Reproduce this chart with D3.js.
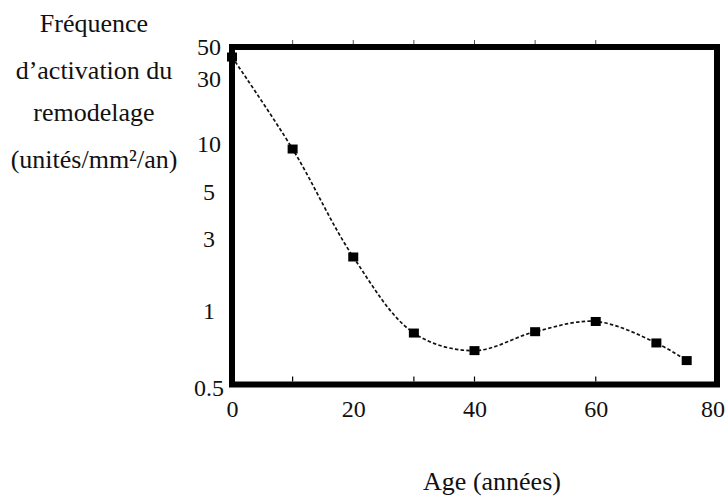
<!DOCTYPE html>
<html>
<head>
<meta charset="utf-8">
<script src="https://cdn.jsdelivr.net/npm/d3@7"></script>
<style>
  html, body { margin: 0; padding: 0; background: #fff; }
  svg { display: block; }
  text { font-family: "Liberation Serif", "Times New Roman", serif; fill: #111; }
</style>
</head>
<body>
<svg id="chart" width="727" height="499"></svg>
<script>
// ---- data ----
const ages = [0, 10, 20, 30, 40, 50, 60, 70, 75];
const frequency = [42.6, 9.3, 2.28, 0.82, 0.70, 0.83, 0.91, 0.75, 0.64];
const yTickValues = [0.5, 1, 3, 5, 10, 30, 50];
const yTickLabels = ["0.5", "1", "3", "5", "10", "30", "50"];
const xTickValues = [0, 20, 40, 60, 80];
const xTickLabels = ["0", "20", "40", "60", "80"];
const innerTicksBottom = [10, 30, 40, 60];
const innerTicksTop = [10, 20, 30, 40, 50, 60];
const yTitleLines = ["Fréquence", "d’activation du", "remodelage", "(unités/mm²/an)"];
const xTitle = "Age (années)";

// ---- layout ----
const W = 727, H = 499;
const frame = { left: 232, top: 47, right: 717, bottom: 384.5 };
// the printed log axis is not evenly spaced: a piecewise log scale reproduces it
const yLabelPos = [388, 311, 239, 192, 144, 79, 47];

const svg = d3.select("#chart");

const x = d3.scaleLinear().domain([0, 80]).range([frame.left, frame.right]);
const yLog = d3.scaleLinear()
  .domain(yTickValues.map(v => Math.log10(v)))
  .range(yLabelPos);
const y = v => yLog(Math.log10(v));

// ---- frame ----
svg.append("rect")
  .attr("x", frame.left).attr("y", frame.top)
  .attr("width", frame.right - frame.left)
  .attr("height", frame.bottom - frame.top)
  .attr("fill", "none").attr("stroke", "#000").attr("stroke-width", 6);

// small inner ticks
svg.append("g").selectAll("line").data(innerTicksBottom).join("line")
  .attr("x1", d => x(d)).attr("x2", d => x(d))
  .attr("y1", frame.bottom - 3).attr("y2", frame.bottom - 8)
  .attr("stroke", "#000").attr("stroke-width", 1.2);
svg.append("g").selectAll("line").data(innerTicksTop).join("line")
  .attr("x1", d => x(d)).attr("x2", d => x(d))
  .attr("y1", frame.top - 3).attr("y2", frame.top - 7)
  .attr("stroke", "#555").attr("stroke-width", 1);

// ---- y axis labels ----
const yAxis = d3.axisLeft(yLog)
  .tickValues(yTickValues.map(v => Math.log10(v)))
  .tickFormat((d, i) => yTickLabels[i])
  .tickSize(0);
const gy = svg.append("g").attr("transform", `translate(209,0)`).call(yAxis);
gy.attr("font-family", null).attr("font-size", null);
gy.select(".domain").remove();
gy.selectAll("text")
  .attr("x", 0).attr("dy", "0.33em")
  .attr("text-anchor", "middle")
  .style("font-family", '"Liberation Serif", "Times New Roman", serif')
  .style("font-size", "24px").attr("fill", "#111");

// ---- x axis labels ----
const xAxis = d3.axisBottom(x)
  .tickValues(xTickValues)
  .tickFormat((d, i) => xTickLabels[i])
  .tickSize(0);
const gx = svg.append("g").attr("transform", `translate(0,${frame.bottom})`).call(xAxis);
gx.attr("font-family", null).attr("font-size", null);
gx.select(".domain").remove();
gx.selectAll("text")
  .attr("y", 0).attr("dy", 0)
  .attr("transform", "translate(0,32)")
  .style("font-family", '"Liberation Serif", "Times New Roman", serif')
  .style("font-size", "24px").attr("fill", "#111");
// keep the last label inside the picture
gx.selectAll(".tick").each(function () {
  const t = d3.select(this);
  const node = t.select("text").node();
  const bb = node.getBBox();
  const m = this.transform.baseVal.consolidate().matrix;
  const right = m.e + bb.x + bb.width;
  if (right > W - 2) t.select("text").attr("x", (W - 2) - right);
});

// ---- curve ----
const pts = ages.map((a, i) => [x(a), y(frequency[i])]);
const line = d3.line().curve(d3.curveCatmullRom.alpha(0.5));
svg.append("path")
  .attr("d", line(pts))
  .attr("fill", "none")
  .attr("stroke", "#111")
  .attr("stroke-width", 1.7)
  .attr("stroke-dasharray", "3.5,2.2");

// ---- markers ----
svg.append("g").selectAll("rect").data(pts).join("rect")
  .attr("x", d => d[0] - 5).attr("y", d => d[1] - 4.5)
  .attr("width", 10).attr("height", 9)
  .attr("fill", "#000");

// ---- titles ----
const baselines = [32, 79, 121, 168];
svg.append("g").selectAll("text").data(yTitleLines).join("text")
  .attr("x", 94).attr("y", (d, i) => baselines[i])
  .attr("text-anchor", "middle")
  .style("font-size", "26px")
  .text(d => d);

svg.append("text")
  .attr("x", 492).attr("y", 490)
  .attr("text-anchor", "middle")
  .style("font-size", "26px")
  .text(xTitle);
</script>
</body>
</html>
